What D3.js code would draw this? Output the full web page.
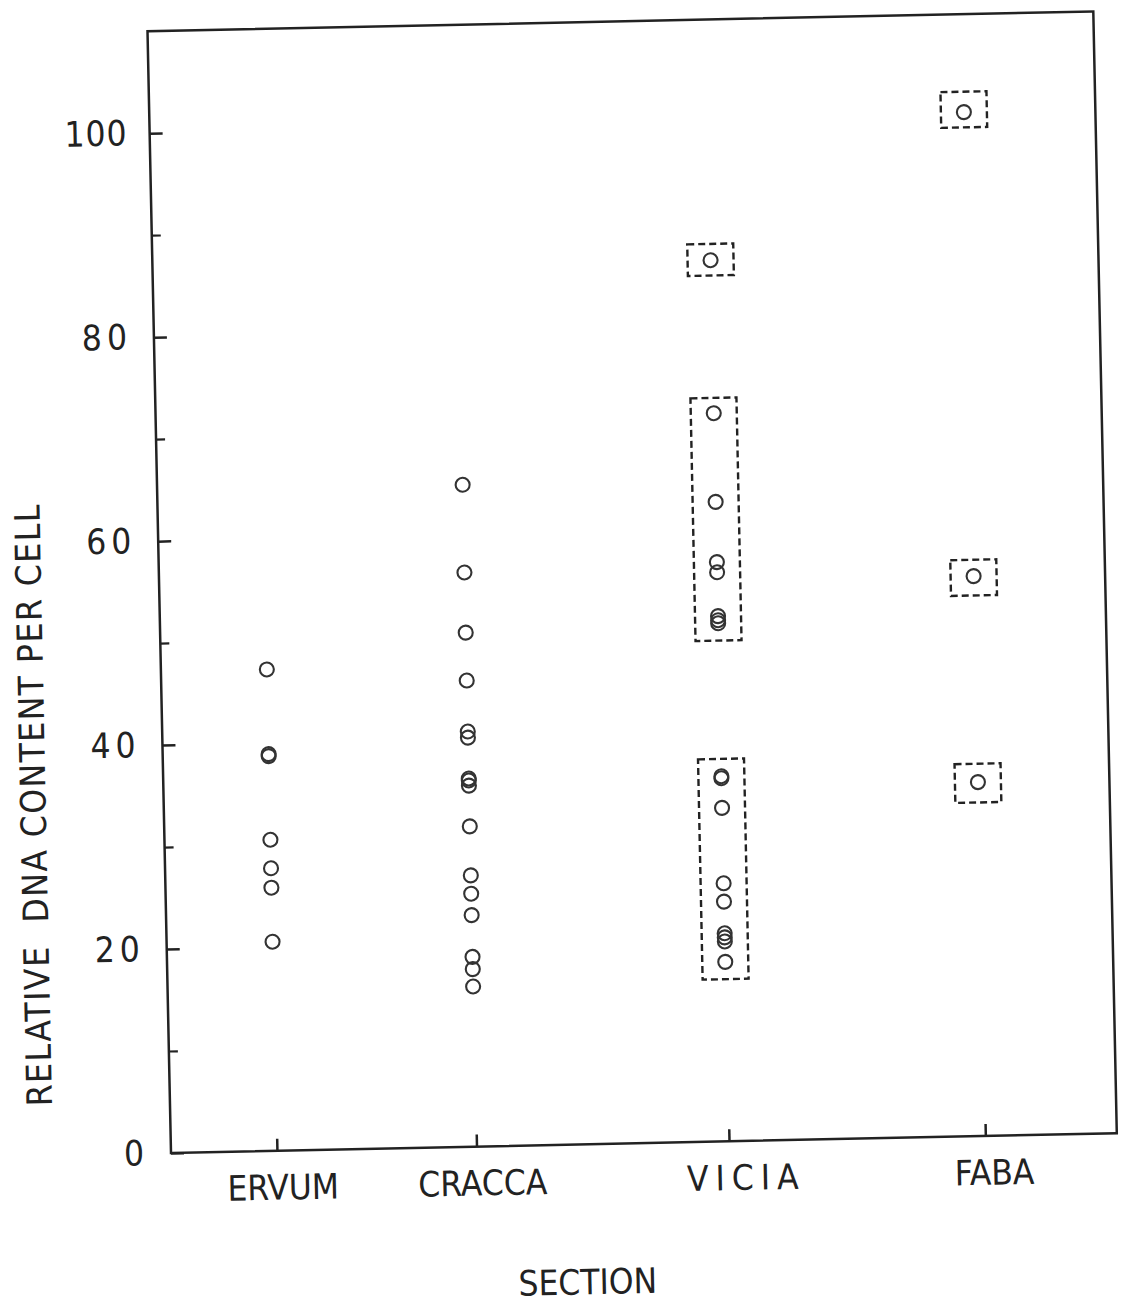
<!DOCTYPE html>
<html>
<head>
<meta charset="utf-8">
<script src="https://cdn.jsdelivr.net/npm/d3@7"></script>
<style>
  body { margin: 0; background: #fff; }
  text { font-family: "Liberation Sans Narrow", "DejaVu Sans Condensed", "Roboto Condensed", "DejaVu Sans", sans-serif; fill: #222; }
</style>
</head>
<body>
<div id="chart"></div>
<script>
// values
const sections = ["ERVUM", "CRACCA", "VICIA", "FABA"];
const ervum = [47.2, 38.9, 38.7, 30.5, 27.7, 25.8, 20.5];
const cracca = [64.9, 56.3, 50.4, 45.7, 40.7, 40.1, 36.1, 35.9, 35.4, 31.4, 26.6, 24.8, 22.7, 18.6, 17.4, 15.7];
const vicia = [86.4, 71.4, 62.7, 56.8, 55.8, 51.5, 51.1, 50.8, 35.8, 35.6, 32.7, 25.3, 23.5, 20.4, 20.0, 19.6, 17.6];
const faba = [100.4, 54.9, 34.7];

// dashed boxes
const boxSection = ["VICIA", "VICIA", "VICIA", "FABA", "FABA", "FABA"];
const boxLow = [84.9, 49.1, 15.9, 98.9, 53.0, 32.7];
const boxHigh = [88.0, 72.9, 37.5, 102.4, 56.5, 36.5];

const yTicks = [0, 20, 40, 60, 80, 100];
const yMinorTicks = [10, 30, 50, 70, 90];

const width = 946, height = 1122;

const svg = d3.select("#chart").append("svg")
    .attr("width", 1125)
    .attr("height", 1304);

svg.append("rect").attr("width", 1125).attr("height", 1304).attr("fill", "#fff");

// the scanned figure sits slightly tilted
const g = svg.append("g")
    .attr("transform", `translate(171,1153) rotate(-1.2) translate(0,${-height})`);

const x = d3.scaleOrdinal()
    .domain(sections)
    .range([0.112, 0.323, 0.59, 0.861].map(f => f * width));

const y = d3.scaleLinear()
    .domain([0, 110])
    .range([height, 0]);

// frame
g.append("rect")
    .attr("width", width)
    .attr("height", height)
    .attr("fill", "none")
    .attr("stroke", "#222")
    .attr("stroke-width", 2.5);

// y axis, ticks point inward
const yAxis = g.append("g")
    .call(d3.axisLeft(y).tickValues(yTicks).tickSizeInner(-13).tickSizeOuter(0).tickPadding(22));
yAxis.select(".domain").remove();
yAxis.selectAll(".tick line").attr("stroke", "#222").attr("stroke-width", 2.5);
yAxis.selectAll(".tick text")
    .style("font-size", "35px")
    .style("letter-spacing", d => d === 100 ? "1px" : "5px")
    .attr("fill", "#222");

const yMinor = g.append("g")
    .call(d3.axisLeft(y).tickValues(yMinorTicks).tickSizeInner(-9).tickSizeOuter(0).tickFormat(""));
yMinor.select(".domain").remove();
yMinor.selectAll(".tick line").attr("stroke", "#222").attr("stroke-width", 2.2);

// x axis
const xAxis = g.append("g")
    .attr("transform", `translate(0,${height})`)
    .call(d3.axisBottom(x).tickSizeInner(-12).tickSizeOuter(0).tickPadding(24));
xAxis.select(".domain").remove();
xAxis.selectAll(".tick line").attr("stroke", "#222").attr("stroke-width", 2.5);
xAxis.selectAll(".tick text")
    .style("font-size", "35px")
    .style("letter-spacing", d => d === "VICIA" ? "7px" : "0px")
    .attr("dx", d => d === "VICIA" ? 16 : (d === "FABA" ? 8 : 5))
    .attr("fill", "#222");

// dashed boxes
const boxes = boxSection.map((s, i) => ({ s: s, lo: boxLow[i], hi: boxHigh[i] }));
g.selectAll("rect.box")
    .data(boxes)
    .enter().append("rect")
    .attr("class", "box")
    .attr("x", d => x(d.s) - 23)
    .attr("width", 46)
    .attr("y", d => y(d.hi))
    .attr("height", d => y(d.lo) - y(d.hi))
    .attr("fill", "none")
    .attr("stroke", "#222")
    .attr("stroke-width", 2.4)
    .attr("stroke-dasharray", "7,4");

// points
const points = [];
[ervum, cracca, vicia, faba].forEach((vals, i) => {
    vals.forEach(v => points.push({ s: sections[i], v: v }));
});

g.selectAll("circle")
    .data(points)
    .enter().append("circle")
    .attr("cx", d => x(d.s))
    .attr("cy", d => y(d.v))
    .attr("r", 7)
    .attr("fill", "none")
    .attr("stroke", "#333")
    .attr("stroke-width", 2.1);

// axis titles
g.append("text")
    .attr("transform", `translate(-128,771) rotate(-90)`)
    .attr("text-anchor", "middle")
    .attr("dominant-baseline", "middle")
    .style("font-size", "35px")
    .style("white-space", "pre")
    .style("letter-spacing", "1.5px")
    .text("RELATIVE  DNA CONTENT PER CELL");

g.append("text")
    .attr("x", 414)
    .attr("y", height + 150)
    .attr("text-anchor", "middle")
    .style("font-size", "35px")
    .text("SECTION");
</script>
</body>
</html>
